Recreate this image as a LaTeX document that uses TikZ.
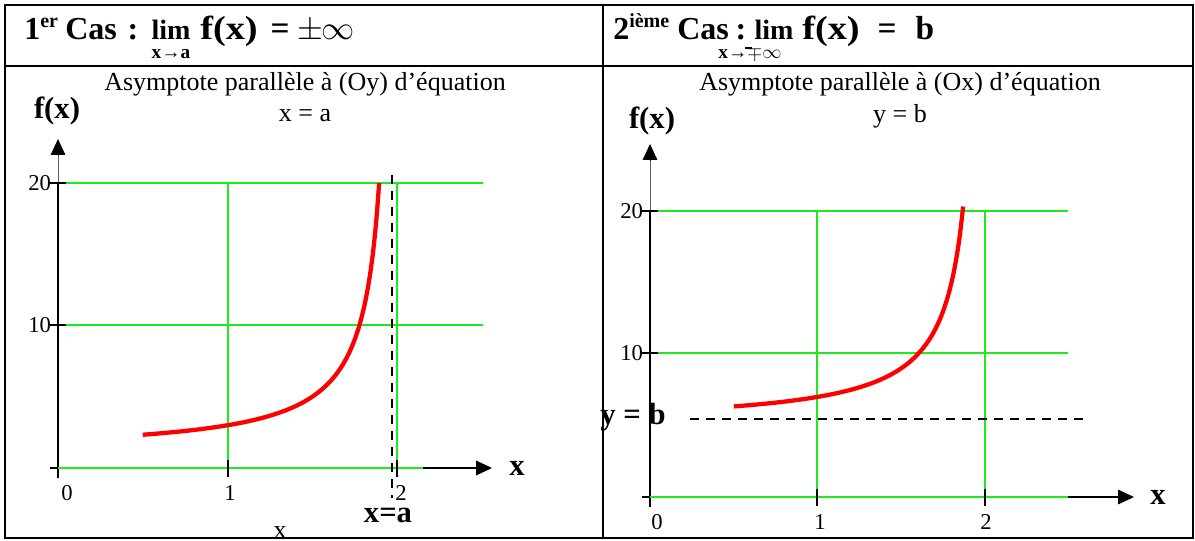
\documentclass[tikz,border=0pt]{standalone}
\usepackage{amsmath}
\usepackage{fontspec}
\setmainfont{Liberation Serif}
\usetikzlibrary{arrows.meta}
\definecolor{grn}{RGB}{30,235,30}
\begin{document}
\begin{tikzpicture}[x=0.75pt,y=-0.75pt,
  frame/.style={line width=1.6pt},
  gridline/.style={draw=grn, line width=0.8pt},
  axisline/.style={line width=1.8pt},
  thinaxis/.style={line width=0.7pt},
  arr/.style={-{Triangle[length=12pt,width=11pt]}},
  curve/.style={red, line width=3.2pt},
  asym/.style={dash pattern=on 7pt off 5pt, line width=2.1pt},
  ticklbl/.style={font=\fontsize{17}{17}\selectfont, inner sep=0pt},
  titlelbl/.style={font=\fontsize{19.5}{21}\selectfont, inner sep=0pt},
  biglbl/.style={font=\bfseries\fontsize{23}{23}\selectfont, inner sep=0pt},
  headlbl/.style={font=\bfseries\fontsize{24}{24}\selectfont, inner sep=0pt, anchor=base},
  limlbl/.style={font=\bfseries\fontsize{21}{21}\selectfont, inner sep=0pt, anchor=base},
  fxlbl/.style={font=\bfseries\fontsize{25}{25}\selectfont, inner sep=0pt, anchor=base},
  sublbl/.style={font=\bfseries\fontsize{14.5}{14.5}\selectfont, inner sep=0pt, anchor=base},
  tick/.style={line width=1.4pt}]
\useasboundingbox (0,0) rectangle (1195,541);
% table frame
\coordinate (TL) at (5,5); \coordinate (BR) at (1193,538);
\coordinate (HL) at (5,66); \coordinate (HR) at (1193,66);
\coordinate (MT) at (603,5); \coordinate (MB) at (603,538);
\draw[frame] (TL) rectangle (BR);
\draw[frame] (HL) -- (HR);
\draw[frame] (MT) -- (MB);
% header 1
\node[headlbl, anchor=base west] (h1n) at (24,40) {1\textsuperscript{\fontsize{15}{15}\selectfont er}};
\node[headlbl, anchor=base west] (h1cas) at (65,40) {Cas};
\node[headlbl] (h1col) at (133,40) {:};
\node[limlbl] (h1lim) at (171,40) {lim};
\node[sublbl] (h1sub) at (171,59) {x→a};
\node[fxlbl] (h1fx) at (229,40) {\scalebox{1.15}[1]{f(x)}};
\node[fxlbl] (h1eq) at (280,40) {=};
\node[fxlbl] (h1pm) at (310,40) {$\pm$};
\node[fxlbl, font=\bfseries\fontsize{27}{27}\selectfont] (h1inf) at (338,40) {$\infty$};
% header 2
\node[headlbl, anchor=base west] (h2n) at (613,40) {2\textsuperscript{\fontsize{15}{15}\selectfont ième}};
\node[headlbl, anchor=base west] (h2cas) at (677,40) {Cas};
\node[headlbl] (h2col) at (741,40) {:};
\coordinate (us1) at (745,48); \coordinate (us2) at (752,48);
\draw[line width=0.9pt] (us1) -- (us2);
\node[limlbl] (h2lim) at (774,40) {lim};
\node[sublbl] (h2sub) at (750,59) {x→$\mp\infty$};
\node[fxlbl] (h2fx) at (831,40) {\scalebox{1.15}[1]{f(x)}};
\node[fxlbl] (h2eq) at (887,40) {=};
\node[fxlbl] (h2b) at (925,40) {b};

% ---------------- left panel ----------------
\node[titlelbl] (t1) at (305,84) {Asymptote parallèle à (Oy) d’équation};
\node[titlelbl] (t1b) at (305,116) {x = a};
\node[biglbl] (fx1) at (57,111) {f(x)};
% grid
\coordinate (A0) at (58,468); \coordinate (A20) at (58,183); \coordinate (A10) at (58,325);
\coordinate (Ax1) at (228,468); \coordinate (Ax2) at (397,468);
\coordinate (Ag) at (483,468);
\draw[gridline] (A20) -- (483,183);
\draw[gridline] (A10) -- (483,325);
\draw[gridline] (228,183) -- (Ax1);
\draw[gridline] (397,183) -- (Ax2);
% axes
\coordinate (Ayb) at (58,478); \coordinate (Ayt) at (58,139);
\coordinate (Axl) at (50,468); \coordinate (Axm) at (423,468); \coordinate (Axr) at (492,468);
\draw[axisline] (Ayb) -- (A20);
\draw[thinaxis, black!60] (A20) -- (58,152);
\draw[arr, thinaxis] (58,155) -- (Ayt);
\draw[axisline] (Axl) -- (Ag);
\draw[gridline, line width=1.3pt] (A0) -- (Ag);
\draw[arr, line width=1pt] (Axm) -- (Axr);
\draw[tick] (50,183) -- (66,183);
\draw[tick] (50,325) -- (66,325);
\draw[tick] (228,460) -- (228,477);
\draw[tick] (397,460) -- (397,477);
\node[ticklbl, anchor=east] (l20a) at (A20) [xshift=-5pt] {20};
\node[ticklbl, anchor=east] (l10a) at (A10) [xshift=-5pt] {10};
\node[ticklbl] (l0a) at (67,493) {0};
\node[ticklbl] (l1a) at (230,493) {1};
\node[ticklbl] (l2a) at (401,493) {2};
\node[biglbl] (xa) at (517,468) {x};
% curve
\draw[curve] plot[domain=0.5:1.895, samples=80, smooth] ({58+169.5*\x},{468-14.25*(2/(2-\x)+1)});
% asymptote
\coordinate (Va) at (392,175); \coordinate (Vb) at (392,498);
\draw[asym] (Va) -- (Vb);
\node[biglbl] (xeqa) at (388,515) {x=a};
\node[titlelbl] (xbot) at (280,533) {x};

% ---------------- right panel ----------------
\node[titlelbl] (t2) at (900,84) {Asymptote parallèle à (Ox) d’équation};
\node[titlelbl] (t2b) at (900,116) {y = b};
\node[biglbl] (fx2) at (652,121) {f(x)};
\coordinate (B0) at (650,497); \coordinate (B20) at (650,211); \coordinate (B10) at (650,353);
\coordinate (Bx1) at (817,497); \coordinate (Bx2) at (985,497);
\coordinate (Bg) at (1068,497);
\draw[gridline] (B20) -- (1068,211);
\draw[gridline] (B10) -- (1068,353);
\draw[gridline] (817,211) -- (Bx1);
\draw[gridline] (985,211) -- (Bx2);
\coordinate (Byb) at (650,507); \coordinate (Byt) at (650,144);
\coordinate (Bxl) at (642,497); \coordinate (Bxr) at (1134,497);
\draw[axisline] (Byb) -- (B20);
\draw[thinaxis, black!60] (B20) -- (650,157);
\draw[arr, thinaxis] (650,160) -- (Byt);
\draw[axisline] (Bxl) -- (Bg);
\draw[gridline, line width=1.3pt] (B0) -- (Bg);
\draw[arr, line width=0.8pt] (Bg) -- (Bxr);
\draw[tick] (642,211) -- (658,211);
\draw[tick] (642,353) -- (658,353);
\draw[tick] (817,489) -- (817,506);
\draw[tick] (985,489) -- (985,506);
\node[ticklbl, anchor=east] (l20b) at (B20) [xshift=-5pt] {20};
\node[ticklbl, anchor=east] (l10b) at (B10) [xshift=-5pt] {10};
\node[ticklbl] (l0b) at (657,522) {0};
\node[ticklbl] (l1b) at (820,522) {1};
\node[ticklbl] (l2b) at (986,522) {2};
\node[biglbl] (xb) at (1158,497) {x};
\draw[curve] plot[domain=0.5:1.87, samples=80, smooth] ({650+167.5*\x},{497-14.3*(2/(2-\x)+5)});
\coordinate (Ha) at (690,419); \coordinate (Hb) at (1085,419);
\draw[asym] (Ha) -- (Hb);
\node[biglbl] (yeqb) at (633,417) {y = b};
\end{tikzpicture}
\end{document}
